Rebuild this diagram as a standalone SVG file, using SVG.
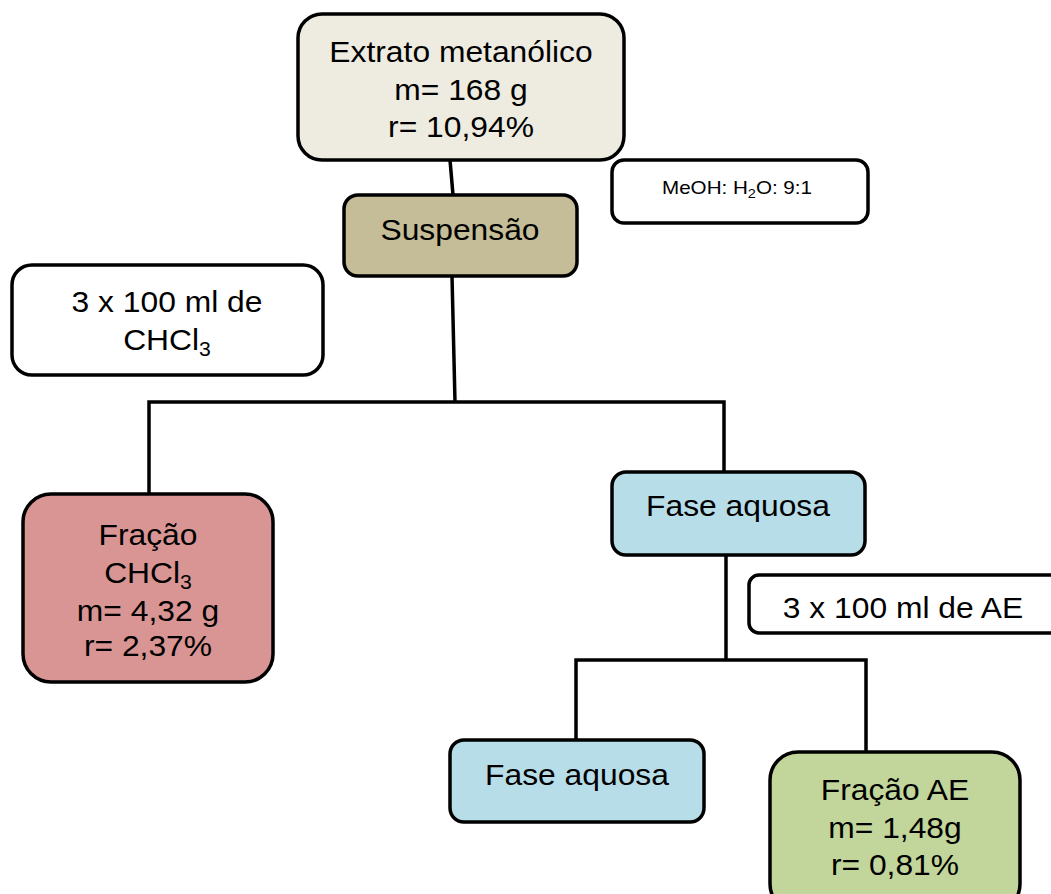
<svg xmlns="http://www.w3.org/2000/svg" width="1051" height="894" viewBox="0 0 1051 894">
<style>
.box{stroke:#000;stroke-width:3.5}
.t{font-family:"Liberation Sans",Arial,sans-serif;font-size:30px;fill:#000;text-anchor:middle}
.s{font-family:"Liberation Sans",Arial,sans-serif;font-size:18.5px;fill:#000;text-anchor:middle}
.c{fill:none;stroke:#000;stroke-width:3.5}
</style>
<rect width="1051" height="894" fill="#fff"/>
<g id="connectors">
<line class="c" x1="450" y1="160" x2="453" y2="195"/>
<line class="c" x1="452" y1="276" x2="455" y2="402"/>
<polyline class="c" points="149,494 149,402 724,402 724,472"/>
<line class="c" x1="726" y1="555" x2="726" y2="660"/>
<polyline class="c" points="576,740 576,660 866,660 866,752"/>
</g>
<g id="extrato">
<rect class="box" x="298" y="14" width="326" height="146" rx="24" fill="#EEECE1"/>
<text class="t" transform="translate(461 62) scale(1.06 1)">Extrato metanólico</text>
<text class="t" transform="translate(461 100) scale(1.06 1)">m= 168 g</text>
<text class="t" transform="translate(461 137) scale(1.06 1)">r= 10,94%</text>
</g>
<g id="suspensao">
<rect class="box" x="344" y="195" width="233" height="81" rx="14" fill="#C4BD97"/>
<text class="t" transform="translate(460 240) scale(1.06 1)">Suspensão</text>
</g>
<g id="meoh">
<rect class="box" x="612" y="160" width="256" height="63" rx="12" fill="#fff"/>
<text class="s" x="737" y="194" textLength="150" lengthAdjust="spacingAndGlyphs">MeOH: H<tspan font-size="13" dy="4">2</tspan><tspan dy="-4">O: 9:1</tspan></text>
</g>
<g id="chcl3note">
<rect class="box" x="12" y="265" width="311" height="110" rx="20" fill="#fff"/>
<text class="t" transform="translate(167 312) scale(1.06 1)">3 x 100 ml de</text>
<text class="t" transform="translate(167 350) scale(1.06 1)">CHCl<tspan font-size="20" dy="6">3</tspan></text>
</g>
<g id="fracao-chcl3">
<rect class="box" x="23" y="494" width="250" height="188" rx="28" fill="#D99594"/>
<text class="t" transform="translate(148 545) scale(1.06 1)">Fração</text>
<text class="t" transform="translate(148 583) scale(1.06 1)">CHCl<tspan font-size="20" dy="6">3</tspan></text>
<text class="t" transform="translate(148 621) scale(1.06 1)">m= 4,32 g</text>
<text class="t" transform="translate(148 656) scale(1.06 1)">r= 2,37%</text>
</g>
<g id="fase-aquosa-1">
<rect class="box" x="612" y="472" width="253" height="83" rx="14" fill="#B7DDE8"/>
<text class="t" transform="translate(738 516) scale(1.06 1)">Fase aquosa</text>
</g>
<g id="ae-note">
<rect class="box" x="749" y="575" width="320" height="58" rx="10" fill="#fff"/>
<text class="t" transform="translate(903 618) scale(1.06 1)">3 x 100 ml de AE</text>
</g>
<g id="fase-aquosa-2">
<rect class="box" x="450" y="740" width="254" height="82" rx="14" fill="#B7DDE8"/>
<text class="t" transform="translate(577 785) scale(1.06 1)">Fase aquosa</text>
</g>
<g id="fracao-ae">
<rect class="box" x="770" y="752" width="250" height="160" rx="28" fill="#C2D69B"/>
<text class="t" transform="translate(895 800) scale(1.06 1)">Fração AE</text>
<text class="t" transform="translate(895 838) scale(1.06 1)">m= 1,48g</text>
<text class="t" transform="translate(895 875) scale(1.06 1)">r= 0,81%</text>
</g>
</svg>
